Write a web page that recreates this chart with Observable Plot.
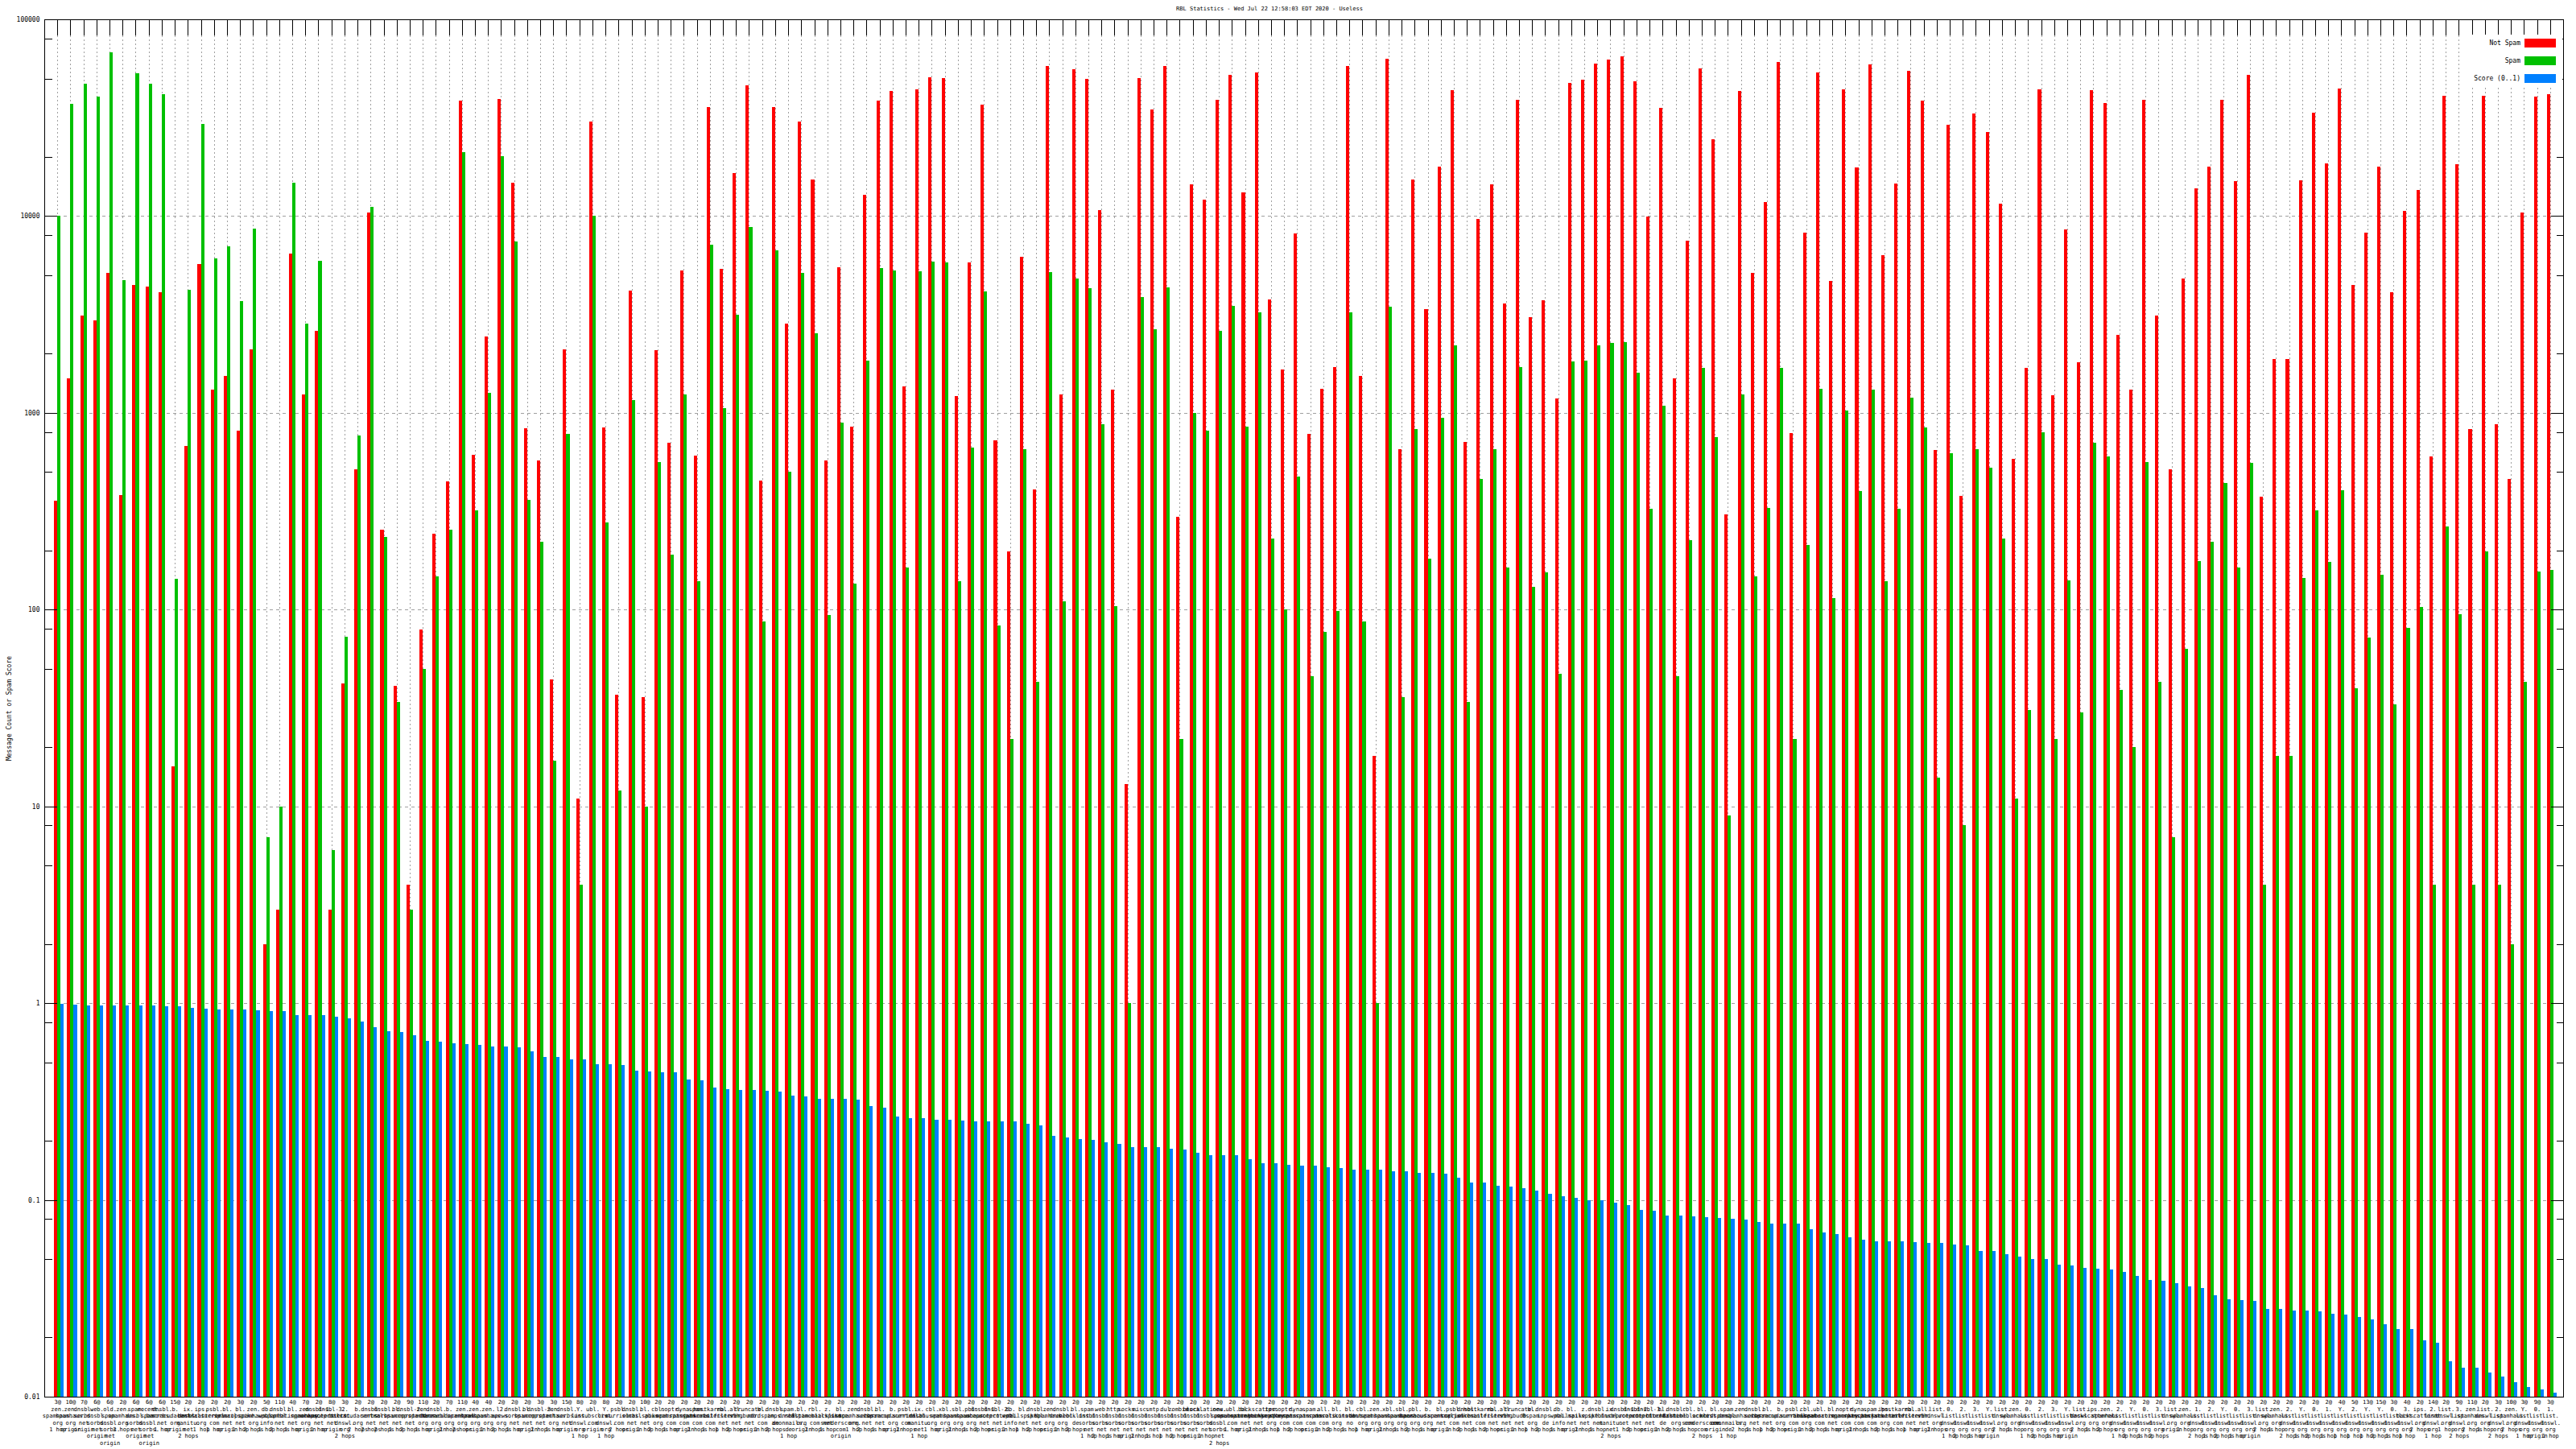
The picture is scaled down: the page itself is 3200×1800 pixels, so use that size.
<!DOCTYPE html>
<html><head><meta charset="utf-8">
<script src="https://cdn.jsdelivr.net/npm/d3@7"></script>
<script src="https://cdn.jsdelivr.net/npm/@observablehq/plot@0.6"></script>
<style>
body{margin:0;background:#fff;}
#wrap{position:relative;width:3200px;height:1800px;overflow:hidden;background:#fff;}
#title{position:absolute;left:1577px;top:7px;transform:translateX(-50%);font:7px "DejaVu Sans Mono";white-space:pre;color:#000;}
#legend{position:absolute;left:3068px;top:43px;width:115px;height:65px;background:#fff;}
.lrow{position:absolute;right:8px;height:11px;display:flex;align-items:center;font:8px "DejaVu Sans Mono";white-space:pre;}
.lrow span.sw{display:inline-block;width:39px;height:11px;margin-left:5px;}
</style></head>
<body><div id="wrap"><div id="title"></div><div id="legend"></div></div>
<script>
const titleText = "RBL Statistics - Wed Jul 22 12:58:03 EDT 2020 - Useless";
const yLabel = "Message Count or Spam Score";
const seriesNames = ["Not Spam", "Spam", "Score (0..1)"];
const seriesColors = ["#ff0000", "#00c000", "#0080ff"];
const yTicks = [0.01, 0.1, 1, 10, 100, 1000, 10000, 100000];
const yTickLabels = ["0.01", "0.1", "1", "10", "100", "1000", "10000", "100000"];
const yMinorTicks = [0.02,0.05,0.08,0.2,0.5,0.8,2,5,8,20,50,80,200,500,800,2000,5000,8000,20000,50000,80000];

const notSpam = [
357,1500,3124,2937,5132,383,4486,4394,4088,16,677,5691,1312,1547,815,2110,2,3,6442,1246,
2621,3,42,518,10470,254,41,4,79,243,448,38500,611,2439,39310,14730,832,574,44,2110,
11,30360,841,37,4174,36,2088,706,
5292,604,35830,5404,16500,46380,452,35830,2848,30360,15350,574,5517,850,12870,38500,43130,1367,44040,50900,
50370,1220,5809,36940,728,198,6181,408,57640,1246,55870,49850,10690,1312,13,50370,34730,57640,296,14430,
12100,38900,51960,13140,53590,3764,1664,8172,
782,1326,1716,57640,1547,18,63240,656,15350,3360,17920,43590,713,9640,14430,3611,38900,3061,3725,1183,
47350,49340,59430,62590,64550,48330,9940,35440,1500,7523,56450,24630,305,43130,5132,11730,60670,790,8256,53590,
4676,44040,17740,58830,6312,14580,54720,38500,
649,29130,380,33320,26810,11610,586,1698,44040,1233,8515,1807,43590,37710,2489,1312,38900,3124,518,4824,
13840,17920,38900,15030,51960,376,1883,1883,15190,33670,18490,44500,4486,8256,17920,4088,10580,13560,598,40980,
18300,824,40980,876,462,10470,40550,41820];

const spam = [
10000,37330,46860,40550,68000,4725,53040,46860,41820,144,4217,29420,6118,6997,3687,8603,7,10,14730,2848,
5932,6,73,766,11140,234,34,3,50,147,254,21150,318,1259,20090,7445,361,222,17,782,
4,10000,278,12,1159,10,562,190,
1246,139,7143,1056,3157,8782,87,6712,501,5132,2542,94,895,136,1845,5460,5292,163,5238,5870,
5809,139,663,4131,83,22,656,43,5184,110,4824,4306,876,104,1,3882,2649,4350,22,1003,
815,2621,3501,850,3256,229,100,476,
46,77,98,3256,87,1,3465,36,824,182,942,2199,34,462,656,164,1716,130,154,47,
1826,1845,2199,2268,2292,1597,325,1089,46,226,1698,751,9,1246,147,328,1698,22,213,1326,
114,1023,400,1312,139,325,1195,841,
14,623,8,656,528,229,11,31,799,22,141,30,706,598,39,20,562,43,7,63,
177,222,439,164,556,4,18,18,145,318,175,404,40,72,151,33,81,103,4,264,
95,4,198,4,2,43,156,159];

const score = [
0.996,0.986,0.976,0.976,0.976,0.976,0.976,0.976,0.966,0.966,0.946,0.936,0.927,0.927,0.927,0.917,0.908,0.908,0.871,0.871,
0.871,0.853,0.835,0.808,0.754,0.719,0.713,0.684,0.646,0.639,0.626,0.620,0.613,0.600,0.600,0.594,0.569,0.531,0.531,0.518,
0.518,0.491,0.491,0.486,0.454,0.449,0.445,0.445,
0.410,0.406,0.374,0.366,0.362,0.362,0.358,0.355,0.340,0.337,0.327,0.327,0.327,0.323,0.301,0.295,0.266,0.261,0.261,0.255,
0.255,0.253,0.250,0.250,0.250,0.250,0.243,0.240,0.212,0.208,0.204,0.202,0.196,0.192,0.186,0.186,0.186,0.182,0.180,0.173,
0.168,0.168,0.168,0.161,0.154,0.153,0.151,0.150,
0.150,0.146,0.145,0.143,0.142,0.142,0.140,0.140,0.137,0.137,0.136,0.130,0.123,0.123,0.118,0.117,0.115,0.111,0.107,0.104,
0.102,0.0994,0.0994,0.0964,0.0944,0.0888,0.0879,0.0834,0.0834,0.0826,0.0817,0.0809,0.0801,0.0793,0.0769,0.0761,0.0761,0.0761,0.0708,0.0686,
0.0672,0.0645,0.0625,0.0618,0.0618,0.0618,0.0612,0.0605,
0.0605,0.0593,0.0587,0.0552,0.0552,0.0530,0.0514,0.0503,0.0503,0.0468,0.0463,0.0453,0.0449,0.0444,0.0431,0.0410,0.0393,0.0389,0.0377,0.0362,
0.0358,0.0327,0.0314,0.0311,0.0307,0.0278,0.0278,0.0275,0.0275,0.0272,0.0264,0.0261,0.0253,0.0248,0.0233,0.0221,0.0221,0.0193,0.0188,0.0152,
0.0141,0.0140,0.0133,0.0126,0.0119,0.0112,0.0109,0.0105];

const hitCounts = [
3,10,7,6,6,2,6,6,6,15,2,2,2,2,3,2,5,11,4,7,
2,8,3,2,2,2,2,9,11,2,7,11,4,4,2,2,2,3,3,15,
8,2,8,2,2,10,2,2,2,2,2,2,2,2,2,2,2,2,2,2,
2,2,2,2,2,2,2,2,2,2,2,2,2,2,2,2,2,2,2,2,
2,2,2,2,2,2,2,2,2,2,2,2,2,2,2,2,2,2,2,2,
2,2,2,2,2,2,2,2,2,2,2,2,2,2,2,2,2,2,2,2,
2,2,2,2,2,2,2,2,2,2,2,2,2,2,2,2,2,2,2,2,
2,2,2,2,2,2,2,2,2,2,2,2,2,2,2,2,2,2,2,2,
2,2,2,2,2,2,2,2,2,2,2,2,2,2,2,4,5,13,15,3,
4,2,14,2,9,11,2,3,10,3,9,3];

const rblNames = [
"zen.spamhaus.org","zen.spamhaus.org","dnsbl.sorbs.net","web.dnsbl.sorbs.net","old.spam.dnsbl.sorbs.net","zen.spamhaus.org","spam.dnsbl.sorbs.net","recent.spam.dnsbl.sorbs.net","dnsbl.sorbs.net","b.barracudacentral.org",
"ix.dnsbl.manitu.net","ips.backscatterer.org","psbl.surriel.com","bl.spamcop.net","bl.mailspike.net","zen.spamhaus.org","db.wpbl.info","dnsbl.spfbl.net","bl.spameatingmonkey.net","zen.spamhaus.org",
"dnsbl-1.uceprotect.net","dnsbl-3.uceprotect.net","2.list.dnswl.org","b.barracudacentral.org","dnsbl.sorbs.net","dnsbl.sorbs.net","bl.spamcop.net","dnsbl-2.uceprotect.net","zen.spamhaus.org","dnsbl.dronebl.org",
"b.barracudacentral.org","zen.spamhaus.org","zen.spamhaus.org","zen.spamhaus.org","l2.apews.org","dnsbl.sorbs.net","bl.spamcop.net","dnsbl-3.uceprotect.net","zen.spamhaus.org","dnsbl.sorbs.net",
"Y.list.dnswl.org","ubl.unsubscore.com","Y.list.dnswl.org","psbl.surriel.com","dnsbl.sorbs.net","bl.mailspike.net","cbl.abuseat.org","noptr.spamrats.com","dyna.spamrats.com","spam.spamrats.com",
"hostkarma.junkemailfilter.com","rbl.interserver.net","all.s5h.net","truncate.gbudb.net","bl.nordspam.com","dnsbl.inps.de","spam.dnsbl.anonmails.de","bl.0spam.org","rbl.realtimeblacklist.com","z.mailspike.net",
"bl.score.senderscore.com","zen.spamhaus.org","dnsbl.sorbs.net","bl.spamcop.net","b.barracudacentral.org","psbl.surriel.com","ix.dnsbl.manitu.net","cbl.abuseat.org","xbl.spamhaus.org","sbl.spamhaus.org",
"pbl.spamhaus.org","dnsbl-1.uceprotect.net","dnsbl-2.uceprotect.net","db.wpbl.info","bl.mailspike.net","dnsbl.spfbl.net","zen.spamhaus.org","dnsbl.dronebl.org","bl.blocklist.de","spam.dnsbl.sorbs.net",
"web.dnsbl.sorbs.net","http.dnsbl.sorbs.net","socks.dnsbl.sorbs.net","misc.dnsbl.sorbs.net","smtp.dnsbl.sorbs.net","dul.dnsbl.sorbs.net","zombie.dnsbl.sorbs.net","block.dnsbl.sorbs.net","escalations.dnsbl.sorbs.net","new.spam.dnsbl.sorbs.net",
"ubl.unsubscore.com","bl.spameatingmonkey.net","backscatter.spameatingmonkey.net","ips.backscatterer.org","noptr.spamrats.com","dyna.spamrats.com","spam.spamrats.com","all.spamrats.com","bl.nosolicitado.org","bl.konstant.no",
"cbl.abuseat.org","zen.spamhaus.org","xbl.spamhaus.org","sbl.spamhaus.org","pbl.spamhaus.org","b.barracudacentral.org","bl.spamcop.net","psbl.surriel.com","dnsbl.sorbs.net","hostkarma.junkemailfilter.com",
"rbl.interserver.net","all.s5h.net","truncate.gbudb.net","bl.0spam.org","dnsbl.inps.de","db.wpbl.info","bl.mailspike.net","z.mailspike.net","dnsbl.spfbl.net","ix.dnsbl.manitu.net",
"dnsbl-1.uceprotect.net","dnsbl-2.uceprotect.net","dnsbl-3.uceprotect.net","bl.blocklist.de","dnsbl.dronebl.org","rbl.realtimeblacklist.com","bl.score.senderscore.com","bl.nordspam.com","spam.dnsbl.anonmails.de","zen.spamhaus.org",
"dnsbl.sorbs.net","bl.spamcop.net","b.barracudacentral.org","psbl.surriel.com","cbl.abuseat.org","ubl.unsubscore.com","bl.spameatingmonkey.net","noptr.spamrats.com","dyna.spamrats.com","spam.spamrats.com",
"ips.backscatterer.org","hostkarma.junkemailfilter.com","rbl.interserver.net","all.s5h.net","list.dnswl.org","0.list.dnswl.org","2.list.dnswl.org","3.list.dnswl.org","Y.list.dnswl.org","list.dnswl.org",
"zen.spamhaus.org","0.list.dnswl.org","2.list.dnswl.org","3.list.dnswl.org","Y.list.dnswl.org","list.dnswl.org","ips.backscatterer.org","zen.spamhaus.org","2.list.dnswl.org","Y.list.dnswl.org",
"0.list.dnswl.org","3.list.dnswl.org","list.dnswl.org","zen.spamhaus.org","1.list.dnswl.org","2.list.dnswl.org","Y.list.dnswl.org","0.list.dnswl.org","3.list.dnswl.org","list.dnswl.org",
"zen.spamhaus.org","2.list.dnswl.org","Y.list.dnswl.org","0.list.dnswl.org","1.list.dnswl.org","Y.list.dnswl.org","2.list.dnswl.org","Y.list.dnswl.org","Y.list.dnswl.org","0.list.dnswl.org",
"3.list.dnswl.org","ips.backscatterer.org","2.list.dnswl.org","list.dnswl.org","3.list.dnswl.org","zen.spamhaus.org","list.dnswl.org","2.list.dnswl.org","zen.spamhaus.org","Y.list.dnswl.org",
"0.list.dnswl.org","1.list.dnswl.org"];

const hopNames = {o: "origin", 1: "1 hop", 2: "2 hops", 3: "3 hops"};
const hopCodes = [
"1","o","o","o","o","2","o","o","1","o","2","1","1","o","1","2","1","2","1","o",
"1","o","2","2","2","2","1","2","1","o","2","2","o","1","2","1","o","2","1","o",
"1","o","1","2","o","1","2","1","o","2","1","1","2","o","1","2","1","o","2","1",
"o","1","2","1","o","2","1","1","o","2","1","2","o","1","1","2","o","1","2","1",
"2","1","o","2","1","1","2","o","1","2","1","o","2","1","1","2","o","1","2","1",
"1","o","2","1","2","1","o","1","2","1","2","o","1","1","2","1","o","2","1","2",
"1","2","o","1","2","1","2","o","1","2","1","1","2","o","1","2","1","o","2","1",
"2","1","1","o","2","1","2","1","o","2","1","1","2","1","o","2","1","2","1","2",
"1","2","o","1","2","1","2","1","o","2","1","2","1","2","1","1","1","1","2","1",
"1","2","1","1","2","2","1","2","2","1","o","1"];

const nGroups = notSpam.length;
const groups = d3.range(nGroups);
const xLabels = groups.map(i => {
  const parts = rblNames[i].split(".");
  const nameLines = parts.map((p, k) => k < parts.length - 1 ? p + "." : p);
  return [hitCounts[i] + "@", ...nameLines, hopNames[hopCodes[i]]].join("\n");
});

// bar layout within each group (offsets in group units)
const barOffsets = [[-0.25, 0], [0, 0.25], [0.25, 0.5]];
const seriesValues = [notSpam, spam, score];
const bars = [];
seriesValues.forEach((vals, s) => vals.forEach((v, i) => bars.push({
  i, series: seriesNames[s], v, x1: i + barOffsets[s][0], x2: i + barOffsets[s][1]
})));

const yDomain = [0.01, 100000];
const font = "DejaVu Sans Mono";

const chart = Plot.plot({
  width: 3200, height: 1800,
  marginLeft: 55, marginRight: 16, marginTop: 24, marginBottom: 65,
  style: {background: "white", fontFamily: font},
  x: {type: "linear", domain: [-1, nGroups]},
  y: {type: "log", domain: yDomain},
  color: {domain: seriesNames, range: seriesColors},
  marks: [
    Plot.ruleX(groups, {x: d => d, stroke: "#a0a0a0", strokeDasharray: "2,3", shapeRendering: "crispEdges"}),
    Plot.ruleY(yTicks, {y: d => d, stroke: "#a0a0a0", strokeDasharray: "4,4", shapeRendering: "crispEdges"}),
    Plot.rect(bars, {x1: "x1", x2: "x2", y1: () => yDomain[0], y2: "v", fill: "series", shapeRendering: "crispEdges"}),
    Plot.frame({stroke: "black", shapeRendering: "crispEdges"}),
    Plot.axisY(yTicks, {anchor: "left", tickSize: -16, tickPadding: 22, tickFormat: (d, k) => yTickLabels[yTicks.indexOf(d)],
      fontSize: 8, label: yLabel, labelAnchor: "center", labelOffset: 47, labelArrow: "none", shapeRendering: "crispEdges"}),
    Plot.axisY(yMinorTicks, {anchor: "left", tickSize: -9.5, tickFormat: () => "", label: null, shapeRendering: "crispEdges"}),
    Plot.axisY(yTicks, {anchor: "right", tickSize: -16, tickFormat: () => "", label: null, shapeRendering: "crispEdges"}),
    Plot.axisY(yMinorTicks, {anchor: "right", tickSize: -9.5, tickFormat: () => "", label: null, shapeRendering: "crispEdges"}),
    Plot.axisX(groups, {anchor: "top", tickSize: -19, tickFormat: () => "", label: null, shapeRendering: "crispEdges"}),
    Plot.axisX(groups, {anchor: "bottom", tickSize: 0, tickPadding: 3, tickFormat: i => xLabels[i], label: null,
      fontSize: 7, lineHeight: 1.2})
  ]
});
const wrap = document.getElementById("wrap");
wrap.insertBefore(chart, wrap.firstChild);
chart.style.position = "absolute"; chart.style.left = "0"; chart.style.top = "0";
document.getElementById("title").textContent = titleText;
const legend = document.getElementById("legend");
seriesNames.forEach((name, k) => {
  const row = document.createElement("div");
  row.className = "lrow";
  row.style.top = (5 + 22 * k) + "px";
  row.innerHTML = `<span></span><span class="sw"></span>`;
  row.firstChild.textContent = name;
  row.lastChild.style.background = seriesColors[k];
  legend.appendChild(row);
});
</script></body></html>
